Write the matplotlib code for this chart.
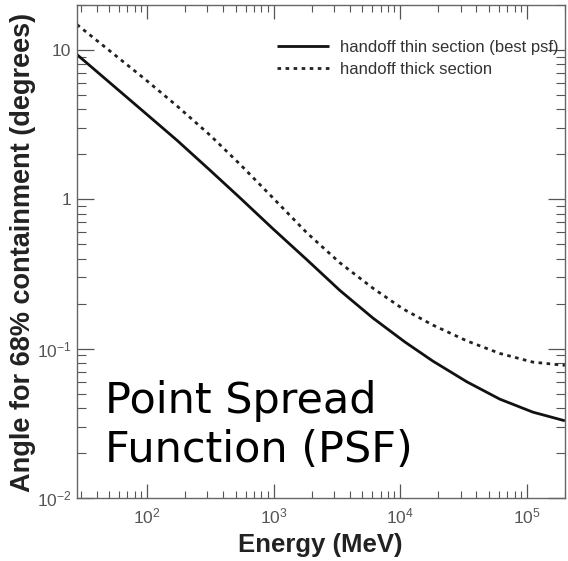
import numpy as np
import matplotlib
matplotlib.use("Agg")
import matplotlib.pyplot as plt
from matplotlib.ticker import FixedLocator, FuncFormatter, LogLocator, NullFormatter

plt.rcParams['font.family'] = ['Liberation Sans', 'DejaVu Sans']
plt.rcParams['mathtext.fontset'] = 'custom'
plt.rcParams['mathtext.rm'] = 'Liberation Sans'
plt.rcParams['mathtext.it'] = 'Liberation Sans'

# Data (log10 energy in MeV, log10 angle in degrees)
thin_log_energy = [1.447, 1.976, 2.237, 2.497, 2.734, 2.994, 3.263, 3.523, 3.784, 4.036, 4.257, 4.526, 4.786, 5.047, 5.30]
thin_log_angle = [0.969, 0.585, 0.395, 0.195, 0.010, -0.197, -0.405, -0.610, -0.795, -0.955, -1.083, -1.222, -1.338, -1.425, -1.483]
thick_log_energy = [1.447, 1.976, 2.237, 2.497, 2.734, 2.994, 3.263, 3.523, 3.784, 4.020, 4.257, 4.526, 4.786, 5.047, 5.30]
thick_log_angle = [1.170, 0.810, 0.625, 0.430, 0.235, 0.010, -0.225, -0.425, -0.595, -0.733, -0.842, -0.948, -1.032, -1.090, -1.112]

label_thin = "handoff thin section (best psf)"
label_thick = "handoff thick section"
xlabel = "Energy (MeV)"
ylabel = "Angle for 68% containment (degrees)"
overlay = "Point Spread\nFunction (PSF)"

W, H = 568, 561
fig = plt.figure(figsize=(W/100, H/100), dpi=100)
ax = fig.add_axes([77/W, 1-498/H, 488/W, 493/H])

ax.plot(10**np.array(thin_log_energy), 10**np.array(thin_log_angle), color='#111111', lw=2.0,
        label=label_thin, solid_capstyle='butt', solid_joinstyle='round')
ax.plot(10**np.array(thick_log_energy), 10**np.array(thick_log_angle), color='#222222', lw=2.0,
        linestyle=(0, (1.3, 1.6)), label=label_thick)

ax.set_xscale('log')
ax.set_yscale('log')
ax.set_xlim(28, 2.0e5)
ax.set_ylim(0.01, 20)

def yfmt(v, pos):
    e = int(round(np.log10(v)))
    if e == 1:
        return '10'
    if e == 0:
        return '1'
    return r'$10^{%d}$' % e

def xfmt(v, pos):
    e = int(round(np.log10(v)))
    return r'$10^{%d}$' % e

ax.xaxis.set_major_locator(FixedLocator([1e2, 1e3, 1e4, 1e5]))
ax.yaxis.set_major_locator(FixedLocator([1e-2, 1e-1, 1, 10]))
ax.xaxis.set_major_formatter(FuncFormatter(xfmt))
ax.yaxis.set_major_formatter(FuncFormatter(yfmt))
ax.xaxis.set_minor_locator(LogLocator(base=10, subs=np.arange(2, 10), numticks=20))
ax.yaxis.set_minor_locator(LogLocator(base=10, subs=np.arange(2, 10), numticks=20))
ax.xaxis.set_minor_formatter(NullFormatter())
ax.yaxis.set_minor_formatter(NullFormatter())

ax.tick_params(which='both', direction='in', top=True, right=True, colors='#555555',
               labelcolor='#555555', labelsize=12.5)
ax.tick_params(axis='x', which='major', length=10, width=0.9, pad=6)
ax.tick_params(axis='x', which='minor', length=5, width=0.8)
ax.tick_params(axis='y', which='major', length=12, width=0.9, pad=4)
ax.tick_params(axis='y', which='minor', length=6.5, width=0.8)
for s in ax.spines.values():
    s.set_color('#666666')
    s.set_linewidth(1.0)

ax.set_xlabel(xlabel, fontsize=18.5, fontweight='bold', color='#222222', va='center')
ax.set_ylabel(ylabel, fontsize=19.5, fontweight='bold', color='#222222', va='center')
ax.xaxis.set_label_coords((320-77)/488, -(545-498)/493)
ax.yaxis.set_label_coords(-(77-23)/488, (498-252)/493)

leg = ax.legend(loc='upper left', frameon=False, fontsize=12, handlelength=3.1,
                bbox_to_anchor=(277/W, 1-40/H), bbox_transform=fig.transFigure,
                borderpad=0, borderaxespad=0, labelspacing=0.4, handletextpad=0.7)
for t in leg.get_texts():
    t.set_color('#333333')

fig.text(105/W, 1-380/H, overlay, fontsize=31, family='DejaVu Sans', color='black',
         va='top', ha='left', linespacing=1.2)

fig.savefig('out.png', dpi=100)
